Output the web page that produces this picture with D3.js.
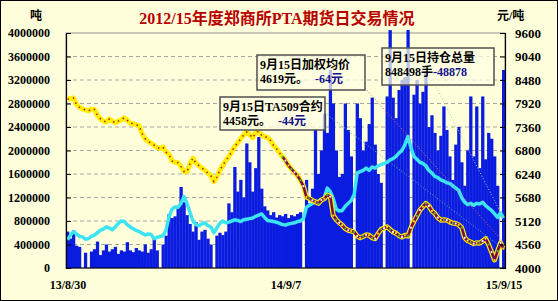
<!DOCTYPE html>
<html>
<head>
<meta charset="utf-8">
<script src="https://cdn.jsdelivr.net/npm/d3@7"></script>
<style>
body { margin: 0; background: #fff; }
svg text { font-family: "Liberation Serif", "Noto Sans CJK SC", serif; font-weight: bold; }
</style>
</head>
<body>
<script>
// daily trading of PTA futures, 13/8/30 .. 15/9/15 (sampled)
// volume and open interest in million tons, price in yuan/ton
var volumeM = [
  0.62,0.50,0.64,0.38,0.36,0,0.26,0,0.28,0.32,
  0.45,0.22,0.30,0.40,0.28,0.32,0.36,0.24,0.30,0.28,
  0.44,0.30,0.27,0.34,0.30,0.28,0.40,0.26,0.32,0.52,
  0.30,0,0.40,0.55,0.92,0.85,0.88,1.05,1.38,1.12,
  0.90,0.75,0.62,0.78,0.48,0.62,0.65,0.50,0.40,0,
  0.55,0.60,0.56,0.62,1.10,0.95,1.72,1.30,1.50,1.20,
  2.12,1.80,1.30,1.70,2.23,1.35,1.05,0.98,0.90,0.95,
  0.86,0.90,0.88,0.92,0.85,0.90,0.88,0.92,0.95,0,
  1.50,1.10,1.35,2.35,1.60,2.00,2.63,2.30,3.37,2.80,
  2.00,1.55,1.60,2.80,2.35,1.90,0,2.80,2.55,2.00,
  2.15,2.45,2.90,2.10,1.60,1.45,0,2.92,4.05,2.90,
  2.55,3.03,3.20,3.25,4.05,0,2.95,3.20,2.80,3.00,
  3.35,2.40,2.60,2.30,2.00,2.25,2.75,2.35,1.90,1.50,
  2.10,2.40,1.80,1.40,2.00,2.92,1.90,2.75,1.70,2.92,
  1.85,2.30,2.20,1.90,1.40,0,3.37
];

var openIntM = [
  0.48,0.56,0.62,0.58,0.54,0.53,0.49,0.50,0.54,0.56,
  0.60,0.64,0.66,0.70,0.68,0.65,0.70,0.76,0.80,0.79,
  0.74,0.70,0.67,0.64,0.62,0.59,0.56,0.58,0.57,0.50,
  0.52,0.54,0.55,0.65,0.87,1.00,1.04,1.03,1.10,1.22,
  1.10,0.95,0.80,0.74,0.72,0.75,0.77,0.72,0.70,0.60,
  0.68,0.76,0.80,0.77,0.78,0.80,0.82,0.81,0.79,0.82,
  0.83,0.84,0.85,0.88,0.90,0.92,0.86,0.81,0.80,0.79,
  0.78,0.76,0.74,0.73,0.75,0.76,0.77,0.79,0.80,0.84,
  1.03,1.07,1.10,1.12,1.14,1.16,1.20,1.36,1.30,1.18,
  1.00,0.97,0.98,1.05,1.10,1.15,1.25,1.62,1.64,1.66,
  1.70,1.66,1.72,1.70,1.74,1.76,1.78,1.80,1.84,1.86,
  1.90,1.96,2.00,2.10,2.24,2.05,1.90,1.85,1.80,1.78,
  1.74,1.66,1.62,1.56,1.54,1.50,1.48,1.45,1.44,1.40,
  1.36,1.32,1.20,1.12,1.08,1.10,1.07,1.10,1.09,1.12,
  1.06,1.02,0.98,0.92,0.86,0.94,0.85
];

var price = [
  8020,8040,8050,7900,7830,7790,7770,7740,7790,7780,
  7640,7560,7500,7480,7550,7500,7460,7500,7530,7580,
  7520,7450,7440,7410,7390,7200,7080,7020,6970,6930,
  6870,6850,6880,6760,6710,6550,6520,6510,6420,6300,
  6290,6480,6620,6500,6440,6380,6330,6260,6200,6060,
  6160,6330,6440,6560,6650,6770,6900,6980,7080,7170,
  7240,7180,7100,7220,7260,7160,7130,7110,7040,6920,
  6840,6740,6650,6560,6440,6360,6280,6200,6090,5950,
  5690,5660,5610,5580,5540,5620,5650,5740,5700,5250,
  5150,5080,5020,4940,4900,4880,4860,4760,4720,4750,
  4790,4780,4720,4700,4820,4920,4950,4980,4920,4860,
  4830,4770,4740,4780,4760,4960,5110,5240,5380,5460,
  5540,5480,5360,5300,5200,5140,5150,5140,5100,5070,
  5060,5030,4960,4720,4650,4620,4580,4600,4590,4640,
  4700,4560,4380,4190,4400,4600,4460
];

var xLabels = ['13/8/30', '14/9/7', '15/9/15'];
var xLabelIdx = [0, 73, 146];
var leftTicks = [0,400000,800000,1200000,1600000,2000000,2400000,2800000,3200000,3600000,4000000];
var rightTicks = [4000,4560,5120,5680,6240,6800,7360,7920,8480,9040,9600];

// notes for 9/15
var noteTitle = ['9月15日TA509合约', '9月15日加权均价', '9月15日持仓总量'];
var noteValue = ['4458元。', '4619元。', '848498手'];
var noteChange = ['-44元', '-64元', '-48878'];
var notePrice = [4458, 4619, null];
var noteOI = [null, null, 848498];

var W = 558, H = 301;
var pLeft = 66, pRight = 505, pTop = 33, pBottom = 268;

var svg = d3.select('body').append('svg')
  .attr('width', W)
  .attr('height', H);

svg.append('rect')
  .attr('x', 0.5).attr('y', 0.5)
  .attr('width', W - 1).attr('height', H - 1)
  .attr('fill', '#FFFFDC')
  .attr('stroke', '#000');

var x = d3.scaleLinear().domain([0, volumeM.length - 1]).range([pLeft + 1.5, pRight - 1.5]);
var yVol = d3.scaleLinear().domain([0, 4000000]).range([pBottom, pTop]);
var yPrice = d3.scaleLinear().domain([4000, 9600]).range([pBottom, pTop]);
var step = x(1) - x(0);

// grid
svg.append('g')
  .selectAll('line')
  .data(leftTicks.slice(1, -1))
  .enter().append('line')
  .attr('x1', pLeft).attr('x2', pRight)
  .attr('y1', function(d) { return yVol(d); })
  .attr('y2', function(d) { return yVol(d); })
  .attr('stroke', '#A8A8A0')
  .attr('stroke-dasharray', '4,3');

svg.append('rect')
  .attr('x', pLeft).attr('y', pTop)
  .attr('width', pRight - pLeft).attr('height', pBottom - pTop)
  .attr('fill', 'none')
  .attr('stroke', '#909090');

// volume bars
svg.append('g')
  .selectAll('rect')
  .data(volumeM)
  .enter().append('rect')
  .attr('x', function(d, i) { return x(i) - step / 2; })
  .attr('width', step + 0.3)
  .attr('y', function(d) { return yVol(d * 1e6); })
  .attr('height', function(d) { return pBottom - yVol(d * 1e6); })
  .attr('fill', '#0A1CE0');

// open interest
var oiLine = d3.line()
  .x(function(d, i) { return x(i); })
  .y(function(d) { return yVol(d * 1e6); });

svg.append('path')
  .datum(openIntM)
  .attr('d', oiLine)
  .attr('fill', 'none')
  .attr('stroke', '#3CE4F4')
  .attr('stroke-width', 3.5)
  .attr('stroke-linejoin', 'round');

// price
var split = 72;
var pts = price.map(function(d, i) { return [i, d]; });
var ptLine = d3.line()
  .x(function(d) { return x(d[0]); })
  .y(function(d) { return yPrice(d[1]); });

svg.append('path')
  .datum(pts)
  .attr('d', ptLine)
  .attr('fill', 'none')
  .attr('stroke', '#FFF000')
  .attr('stroke-width', 5)
  .attr('stroke-linejoin', 'round');

svg.append('path')
  .datum(pts.slice(0, split + 1))
  .attr('d', ptLine)
  .attr('fill', 'none')
  .attr('stroke', '#D02000')
  .attr('stroke-width', 1.6)
  .attr('stroke-dasharray', '1.5,4');

svg.append('path')
  .datum(pts.slice(split))
  .attr('d', ptLine)
  .attr('fill', 'none')
  .attr('stroke', '#7A0A50')
  .attr('stroke-width', 2.6)
  .attr('stroke-linejoin', 'round');

var dotCols = ['#40C040', '#FFFFFF', '#FFE000'];
svg.append('g')
  .selectAll('circle')
  .data(pts.slice(split))
  .enter().append('circle')
  .attr('cx', function(d) { return x(d[0]); })
  .attr('cy', function(d) { return yPrice(d[1]); })
  .attr('r', 1.1)
  .attr('fill', function(d, i) { return dotCols[i % 3]; });

// leader lines from note boxes
var lastI = price.length - 1;
var leaders = [
  {x1: 325, y1: 113, y2: yPrice(notePrice[0]), c: '#60C0B0'},
  {x1: 365, y1: 88, y2: yPrice(notePrice[1]), c: '#F06060'},
  {x1: 435, y1: 85, y2: yVol(noteOI[2]), c: '#90E0A0'}
];
svg.append('g')
  .selectAll('line')
  .data(leaders)
  .enter().append('line')
  .attr('x1', function(d) { return d.x1; })
  .attr('y1', function(d) { return d.y1; })
  .attr('x2', x(lastI))
  .attr('y2', function(d) { return d.y2; })
  .attr('stroke', function(d) { return d.c; })
  .attr('stroke-width', 1)
  .attr('stroke-dasharray', '1,2');

// note boxes
var boxes = [
  {x: 220, y: 97, w: 105, h: 33, dx: 7},
  {x: 257, y: 55, w: 108, h: 35, dx: 7},
  {x: 382, y: 48, w: 112, h: 37, dx: 0}
];
boxes.forEach(function(b, i) {
  var g = svg.append('g');
  g.append('rect')
    .attr('x', b.x).attr('y', b.y)
    .attr('width', b.w).attr('height', b.h)
    .attr('fill', '#FFFFE4')
    .attr('fill-opacity', 0.72)
    .attr('stroke', '#505050')
    .attr('stroke-width', 1.5);
  g.append('text')
    .attr('x', b.x + 3).attr('y', b.y + 14)
    .style('font-size', '12px')
    .text(noteTitle[i]);
  var t = g.append('text')
    .attr('x', b.x + 3).attr('y', b.y + 28)
    .style('font-size', '12px');
  t.append('tspan').text(noteValue[i]);
  t.append('tspan').attr('dx', b.dx).attr('fill', '#10108A').text(noteChange[i]);
});

// axes
var yAxisL = d3.axisLeft(yVol).tickValues(leftTicks).tickSize(-5).tickPadding(16).tickFormat(d3.format('d'));
var gl = svg.append('g')
  .attr('transform', 'translate(' + pLeft + ',0)')
  .call(yAxisL);

var yAxisR = d3.axisRight(yPrice).tickValues(rightTicks).tickSize(-5).tickPadding(10).tickFormat(d3.format('d'));
var gr = svg.append('g')
  .attr('transform', 'translate(' + pRight + ',0)')
  .call(yAxisR);

var xAxis = d3.axisBottom(x).tickValues(xLabelIdx).tickSize(0).tickPadding(12)
  .tickFormat(function(d, i) { return xLabels[i]; });
var gx = svg.append('g')
  .attr('transform', 'translate(0,' + pBottom + ')')
  .call(xAxis);
gx.select('.domain').attr('d', 'M' + pLeft + ',0H' + pRight);

svg.selectAll('.domain').attr('stroke', '#000').attr('stroke-width', 1.2);
svg.selectAll('.tick line').attr('stroke', '#000');
svg.selectAll('.tick text')
  .attr('fill', '#000')
  .style('font-size', '12px')
  .style('font-family', '"Liberation Serif", serif')
  .style('font-weight', 'bold');
gr.selectAll('.tick text').style('font-size', '13px');

// titles
svg.append('text')
  .attr('x', 277).attr('y', 24)
  .style('text-anchor', 'middle')
  .style('font-size', '16px')
  .attr('fill', '#B80000')
  .text('2012/15年度郑商所PTA期货日交易情况');

svg.append('text')
  .attr('x', 36).attr('y', 20)
  .style('text-anchor', 'middle')
  .style('font-size', '12px')
  .text('吨');

svg.append('text')
  .attr('x', 497).attr('y', 20)
  .style('font-size', '12px')
  .text('元/吨');
</script>
</body>
</html>
